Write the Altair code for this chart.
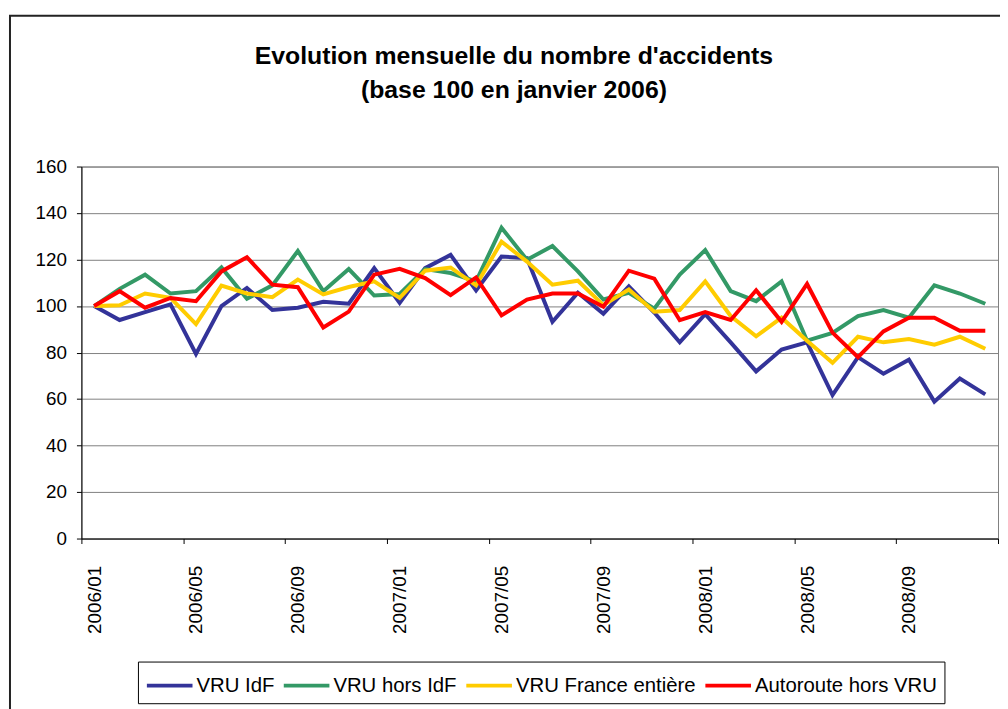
import altair as alt
import pandas as pd

months = [
    "2006/01", "2006/02", "2006/03", "2006/04", "2006/05", "2006/06",
    "2006/07", "2006/08", "2006/09", "2006/10", "2006/11", "2006/12",
    "2007/01", "2007/02", "2007/03", "2007/04", "2007/05", "2007/06",
    "2007/07", "2007/08", "2007/09", "2007/10", "2007/11", "2007/12",
    "2008/01", "2008/02", "2008/03", "2008/04", "2008/05", "2008/06",
    "2008/07", "2008/08", "2008/09", "2008/10", "2008/11", "2008/12",
]

series = ["VRU IdF", "VRU hors IdF", "VRU France entière", "Autoroute hors VRU"]
colors = ["#333399", "#339966", "#FFCC00", "#FF0000"]

vru_idf = [100, 94, 97.4, 100.7, 79.4, 100, 107.8, 98.3, 99.3, 101.8, 101, 116.3,
           101.4, 116.3, 122, 106.7, 121.3, 120.6, 93.2, 105.7, 96.7, 108.5, 97.2, 84.4,
           96.5, 84.4, 71.9, 81.3, 84.4, 61.7, 78, 70.9, 76.9, 58.9, 68.8, 62]
vru_hors_idf = [100, 107.4, 113.5, 105.4, 106.4, 116.6, 103.1, 108.9, 123.7, 106.4, 115.9, 104.5,
                105.2, 115.9, 114.2, 110.6, 133.7, 119.9, 125.8, 114.9, 102.8, 105.7, 98.9, 113.5,
                124.1, 106.4, 102.1, 110.6, 85.1, 88.4, 95.7, 98.3, 95, 108.9, 105.4, 101]
vru_france = [100, 100.3, 105.4, 103.5, 92.2, 108.8, 105.4, 103.8, 111.4, 105, 108.2, 110.6,
              103.5, 115.2, 116.6, 108.9, 127.7, 119.1, 109.2, 110.9, 100.4, 107.1, 97.6, 98.3,
              110.6, 95.7, 87, 95, 85.1, 75.6, 86.8, 84.4, 85.8, 83.4, 86.8, 81.6]
autoroute = [100, 106.4, 99.3, 103.5, 102.1, 114.9, 121, 109.2, 108.1, 90.8, 97.6, 113.5,
             116, 112, 104.7, 112.3, 96, 102.8, 105.4, 105.4, 99.7, 115.2, 111.8, 93.9,
             97.4, 94, 106.8, 93.2, 109.5, 88.6, 78, 89.1, 95, 95, 89.4, 89.4]

title_lines = ["Evolution mensuelle du nombre d'accidents", "(base 100 en janvier 2006)"]
y_ticks = [0, 20, 40, 60, 80, 100, 120, 140, 160]

values_by_series = [vru_idf, vru_hors_idf, vru_france, autoroute]
rows = []
for s, vals in zip(series, values_by_series):
    for i, (m, v) in enumerate(zip(months, vals)):
        rows.append({"idx": i, "month": m, "series": s, "value": v})
df = pd.DataFrame(rows)

W, H = 924, 375
n = len(months)
half = W / n / 2
FONT = "Liberation Sans"

tick_vals = [-0.5 + 4 * k for k in range(n // 4 + 1)]
arr = "[" + ",".join("'" + m + "'" for m in months) + "]"
label_expr = f"datum.value < {n - 1} ? {arr}[round(datum.value + 0.5)] : ''"

x_enc = alt.X(
    "idx:Q",
    scale=alt.Scale(domain=[-0.5, n - 0.5], nice=False, zero=False),
    axis=alt.Axis(
        values=tick_vals, labelExpr=label_expr, labelOffset=half, labelAngle=-90,
        labelAlign="right", labelBaseline="middle",
        title=None, grid=False, tickSize=5, labelPadding=22, labelFontSize=19,
        labelFont=FONT, labelColor="black", domainColor="black", tickColor="black",
        labelOverlap=False, labelFlush=False,
    ),
)
y_enc = alt.Y(
    "value:Q",
    scale=alt.Scale(domain=[0, 160], nice=False),
    axis=alt.Axis(
        values=y_ticks, title=None, grid=True, gridColor="#808080", gridWidth=1,
        tickSize=5, labelPadding=10, labelFontSize=19, labelFont=FONT,
        labelColor="black", domainColor="black", tickColor="black",
    ),
)
color_enc = alt.Color(
    "series:N",
    scale=alt.Scale(domain=series, range=colors),
    legend=alt.Legend(
        title=None, orient="none", legendX=57, legendY=499, direction="horizontal",
        symbolType="M-1,0H2.0667", symbolSize=900, symbolStrokeWidth=4,
        labelFontSize=20.5, labelFont=FONT, labelColor="black", labelOffset=18,
        columnPadding=1, padding=7, strokeColor="black", labelLimit=400,
    ),
)

base = alt.Chart(df).mark_line(strokeWidth=4).encode(x=x_enc, y=y_enc, color=color_enc)
line_layers = [base.transform_filter(alt.datum.series == s) for s in series]

one = pd.DataFrame({"a": [0]})
frame = alt.Chart(one).mark_rect(fill="transparent", stroke="#222222", strokeWidth=2).encode(
    x=alt.value(-72), x2=alt.value(960), y=alt.value(-152), y2=alt.value(640)
)
title = alt.Chart(one).mark_text(
    text=title_lines, lineHeight=34, fontSize=25, fontWeight="bold", font=FONT,
    align="center", baseline="top", color="black",
).encode(x=alt.value(436), y=alt.value(-123))

chart = alt.layer(frame, title, *line_layers).properties(
    width=W, height=H,
    autosize=alt.AutoSizeParams(type="none"),
    padding={"left": 74, "top": 157, "right": 2, "bottom": 169},
).configure_view(stroke="#808080", strokeWidth=1)

chart.save("out.html", embed_options={"renderer": "svg", "actions": False})
